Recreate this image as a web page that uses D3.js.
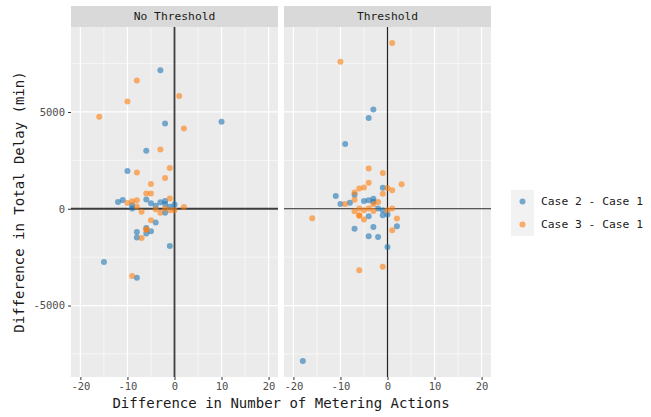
<!DOCTYPE html>
<html>
<head>
<meta charset="utf-8">
<script src="https://cdn.jsdelivr.net/npm/d3@7"></script>
<style>
  body { margin: 0; background: white; }
  text { font-family: "DejaVu Sans Mono", monospace; }
</style>
</head>
<body>
<div id="chart"></div>
<script>
// facet panels and series
var panels = ["No Threshold", "Threshold"];
var seriesNames = ["Case 2 - Case 1", "Case 3 - Case 1"];
var seriesColors = ["#1f77b4", "#ff7f0e"];

var xTicks = [-20, -10, 0, 10, 20];
var xMinor = [-15, -5, 5, 15];
var yTicks = [-5000, 0, 5000];
var yMinor = [-7500, -2500, 2500, 7500];

// [metering action diff, delay diff] pairs
var noThresholdCase2 = [
  [-3, 7150], [-2, 4400], [10, 4500], [-6, 3000], [-10, 1950],
  [-12, 350], [-11, 450], [-9, 180], [-9, 10], [-6, 480], [-5, 280],
  [-4, 150], [-3, 330], [-2, 400], [-2, 250], [-2, -200], [-1, 100], [0, 220],
  [-4, -710], [-8, -1200], [-5, -1160], [-6, -1280], [-6, -1000],
  [-8, -1480], [-1, -1930], [-15, -2750], [-8, -3570]
];
var noThresholdCase3 = [
  [-8, 6630], [1, 5830], [-10, 5540], [-16, 4750], [2, 4150], [-3, 3060],
  [-1, 2110], [-8, 1870], [-2, 1590], [-5, 1280], [-6, 790], [-5, 790],
  [-1, 530], [-10, 300], [-9, 390], [-8, 440], [-8, 120], [-7, -160],
  [-4, -30], [-3, -200], [-2, 10], [-1, -80], [0, -80], [2, 90],
  [-5, -590], [-6, -1070], [-6, -1090], [-7, -1510], [-9, -3470]
];
var thresholdCase2 = [
  [-3, 5130], [-4, 4690], [-9, 3350], [-1, 1080], [-11, 660], [-7, 720],
  [-10, 240], [-8, 310], [-5, 400], [-4, 440], [-3, 520], [-3, 360],
  [-2, 10], [-1, -80], [-1, -340], [0, -300], [-4, -390], [2, -905],
  [-7, -1030], [-3, -940], [-4, -1420], [-2, -1460], [0, -1975], [-18, -7870]
];
var thresholdCase3 = [
  [1, 8560], [-10, 7590], [-4, 2080], [-1, 1850], [-4, 1340], [3, 1270],
  [-5, 1100], [-6, 1040], [0, 1075], [1, 960], [-1, 770], [-7, 840],
  [-7, 460], [-9, 240], [-3, 230], [-2, 350], [-7, -130], [-6, 10],
  [-5, -80], [-4, 10], [-3, -110], [0, -80], [1, 10], [-6, -340],
  [-6, -360], [-5, -550], [2, -507], [1, -1110], [-6, -3180], [-1, -3000],
  [-16, -490]
];

var panelData = [
  [noThresholdCase2, noThresholdCase3],
  [thresholdCase2, thresholdCase3]
];

var width = 651, height = 417;
var panelTop = 27, panelBottom = 377;
var panelLeft = [71, 284], panelWidth = 207;

var svg = d3.select("#chart").append("svg")
            .attr("width", width)
            .attr("height", height);

var y = d3.scaleLinear()
          .domain([-8692, 9390])
          .range([panelBottom, panelTop]);

// plain hyphen, no thousands comma
var plainFormat = function (d) { return String(d); };

panels.forEach(function (name, i) {
  var x0 = panelLeft[i];
  var x = d3.scaleLinear()
            .domain([-22, 22])
            .range([x0, x0 + panelWidth]);

  var g = svg.append("g");

  // strip
  g.append("rect")
   .attr("x", x0).attr("y", 6)
   .attr("width", panelWidth).attr("height", panelTop - 6)
   .style("fill", "#d9d9d9");
  g.append("text")
   .attr("x", x0 + panelWidth / 2).attr("y", 16.5)
   .attr("text-anchor", "middle").attr("dominant-baseline", "central")
   .style("font-size", "11.3px").style("fill", "#1a1a1a")
   .text(name);

  // panel background + grid
  g.append("rect")
   .attr("x", x0).attr("y", panelTop)
   .attr("width", panelWidth).attr("height", panelBottom - panelTop)
   .style("fill", "#ebebeb");

  g.selectAll(".vminor").data(xMinor).enter().append("line")
   .attr("x1", function (d) { return x(d); }).attr("x2", function (d) { return x(d); })
   .attr("y1", panelTop).attr("y2", panelBottom)
   .style("stroke", "white").style("stroke-width", 0.6);
  g.selectAll(".hminor").data(yMinor).enter().append("line")
   .attr("x1", x0).attr("x2", x0 + panelWidth)
   .attr("y1", function (d) { return y(d); }).attr("y2", function (d) { return y(d); })
   .style("stroke", "white").style("stroke-width", 0.6);
  g.selectAll(".vmajor").data(xTicks).enter().append("line")
   .attr("x1", function (d) { return x(d); }).attr("x2", function (d) { return x(d); })
   .attr("y1", panelTop).attr("y2", panelBottom)
   .style("stroke", "white").style("stroke-width", 1.2);
  g.selectAll(".hmajor").data(yTicks).enter().append("line")
   .attr("x1", x0).attr("x2", x0 + panelWidth)
   .attr("y1", function (d) { return y(d); }).attr("y2", function (d) { return y(d); })
   .style("stroke", "white").style("stroke-width", 1.2);

  // zero lines
  var zeroColor = i == 0 ? "#3d3d3d" : "#222";
  var zeroWidth = i == 0 ? 1.8 : 1.2;
  g.append("line")
   .attr("x1", x(0)).attr("x2", x(0))
   .attr("y1", panelTop).attr("y2", panelBottom)
   .style("stroke", zeroColor).style("stroke-width", zeroWidth);
  g.append("line")
   .attr("x1", x0).attr("x2", x0 + panelWidth)
   .attr("y1", y(0)).attr("y2", y(0))
   .style("stroke", zeroColor).style("stroke-width", zeroWidth);

  // points
  panelData[i].forEach(function (pts, s) {
    g.selectAll(".pt" + s).data(pts).enter().append("circle")
     .attr("cx", function (d) { return x(d[0]); })
     .attr("cy", function (d) { return y(d[1]); })
     .attr("r", 3)
     .style("fill", seriesColors[s])
     .style("fill-opacity", 0.6);
  });

  // x axis
  var xAxis = g.append("g")
               .attr("transform", "translate(0," + panelBottom + ")")
               .call(d3.axisBottom(x).tickValues(xTicks).tickFormat(plainFormat)
                       .tickSize(3).tickPadding(3));
  xAxis.select(".domain").remove();
  xAxis.selectAll("line").style("stroke", "#333");
  xAxis.selectAll("text").style("font-size", "10.5px").style("fill", "#4d4d4d")
       .style("font-family", "DejaVu Sans Mono");
});

// y axis (left panel only)
var yAxis = svg.append("g")
               .attr("transform", "translate(" + panelLeft[0] + ",0)")
               .call(d3.axisLeft(y).tickValues(yTicks).tickFormat(plainFormat)
                       .tickSize(3).tickPadding(3));
yAxis.select(".domain").remove();
yAxis.selectAll("line").style("stroke", "#333");
yAxis.selectAll("text").style("font-size", "10.5px").style("fill", "#4d4d4d")
     .style("font-family", "DejaVu Sans Mono");

// axis titles
svg.append("text")
   .attr("x", (panelLeft[0] + panelLeft[1] + panelWidth) / 2).attr("y", 408)
   .attr("text-anchor", "middle")
   .style("font-size", "14px").style("fill", "#1a1a1a")
   .text("Difference in Number of Metering Actions");
svg.append("text")
   .attr("transform", "translate(24," + (panelTop + panelBottom) / 2 + ") rotate(-90)")
   .attr("text-anchor", "middle")
   .style("font-size", "14px").style("fill", "#1a1a1a")
   .text("Difference in Total Delay (min)");

// legend
var legend = svg.append("g");
legend.selectAll("rect").data(seriesNames).enter().append("rect")
      .attr("x", 511).attr("y", function (d, i) { return 190 + i * 23; })
      .attr("width", 23).attr("height", 23)
      .style("fill", "#f2f2f2");
legend.selectAll("circle").data(seriesNames).enter().append("circle")
      .attr("cx", 522.5).attr("cy", function (d, i) { return 201.5 + i * 23; })
      .attr("r", 3)
      .style("fill", function (d, i) { return seriesColors[i]; })
      .style("fill-opacity", 0.6);
legend.selectAll("text").data(seriesNames).enter().append("text")
      .attr("x", 541).attr("y", function (d, i) { return 201.5 + i * 23; })
      .attr("dominant-baseline", "central")
      .style("font-size", "11.3px").style("fill", "#1a1a1a")
      .text(function (d) { return d; });
</script>
</body>
</html>
